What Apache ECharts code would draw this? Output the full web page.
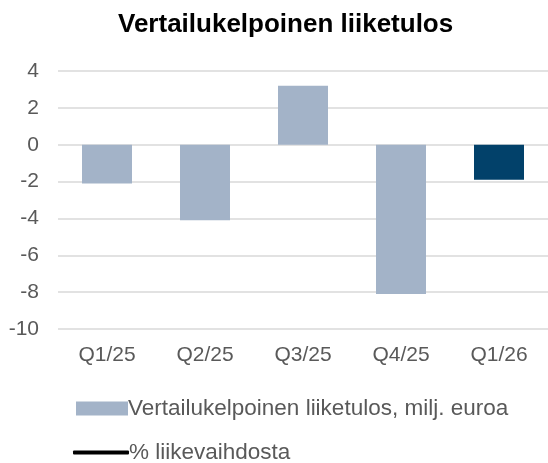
<!DOCTYPE html>
<html>
<head>
<meta charset="utf-8">
<script src="https://cdn.jsdelivr.net/npm/echarts@6/dist/echarts.min.js"></script>
<style>
  html, body { margin: 0; padding: 0; background: #fff; }
  #chart { width: 548px; height: 463px; }
</style>
</head>
<body>
<div id="chart"></div>
<script>
const categories = ['Q1/25', 'Q2/25', 'Q3/25', 'Q4/25', 'Q1/26']
const operatingResult = [-2.1, -4.1, 3.2, -8.1, -1.9]
const percentOfRevenue = [null, null, null, null, null]
const yTicks = { min: -10, max: 4, interval: 2 }

const barColor = '#a3b3c8'
const highlightColor = '#02416a'
const textColor = '#595959'

const chart = echarts.init(document.getElementById('chart'))

const option = {
  animation: false,
  textStyle: { fontFamily: 'Liberation Sans, Arial, sans-serif' },
  title: {
    text: 'Vertailukelpoinen liiketulos',
    left: 113,
    top: 7,
    textStyle: { fontSize: 26, fontWeight: 'bold', color: '#000' }
  },
  grid: {
    left: 58,
    width: 493,
    top: 71,
    height: 258
  },
  legend: [
    {
      data: ['Vertailukelpoinen liiketulos, milj. euroa'],
      left: 71,
      top: 392,
      icon: 'rect',
      itemWidth: 52,
      itemHeight: 14,
      itemGap: 0,
      textStyle: { fontSize: 22.5, color: textColor, padding: [0, 0, 0, -5] }
    },
    {
      data: ['% liikevaihdosta'],
      left: 68,
      top: 436,
      icon: 'roundRect',
      itemWidth: 56,
      itemHeight: 4,
      textStyle: { fontSize: 22.5, color: textColor, padding: [0, 0, 0, -5] }
    }
  ],
  xAxis: {
    type: 'category',
    data: categories,
    axisLine: { show: false },
    axisTick: { show: false },
    axisLabel: { fontSize: 21, color: textColor, margin: 16 }
  },
  yAxis: {
    type: 'value',
    min: yTicks.min,
    max: yTicks.max,
    interval: yTicks.interval,
    axisLabel: { fontSize: 21, color: textColor, margin: 19 },
    splitLine: { lineStyle: { color: '#d9d9d9', width: 1.5 } }
  },
  series: [
    {
      name: 'Vertailukelpoinen liiketulos, milj. euroa',
      type: 'bar',
      barWidth: 50,
      itemStyle: { color: barColor },
      data: operatingResult.map((v, i) =>
        i === operatingResult.length - 1
          ? { value: v, itemStyle: { color: highlightColor } }
          : v
      )
    },
    {
      name: '% liikevaihdosta',
      type: 'line',
      symbol: 'none',
      lineStyle: { color: '#000', width: 4 },
      itemStyle: { color: '#000' },
      data: percentOfRevenue
    }
  ]
}

chart.setOption(option)
</script>
</body>
</html>
